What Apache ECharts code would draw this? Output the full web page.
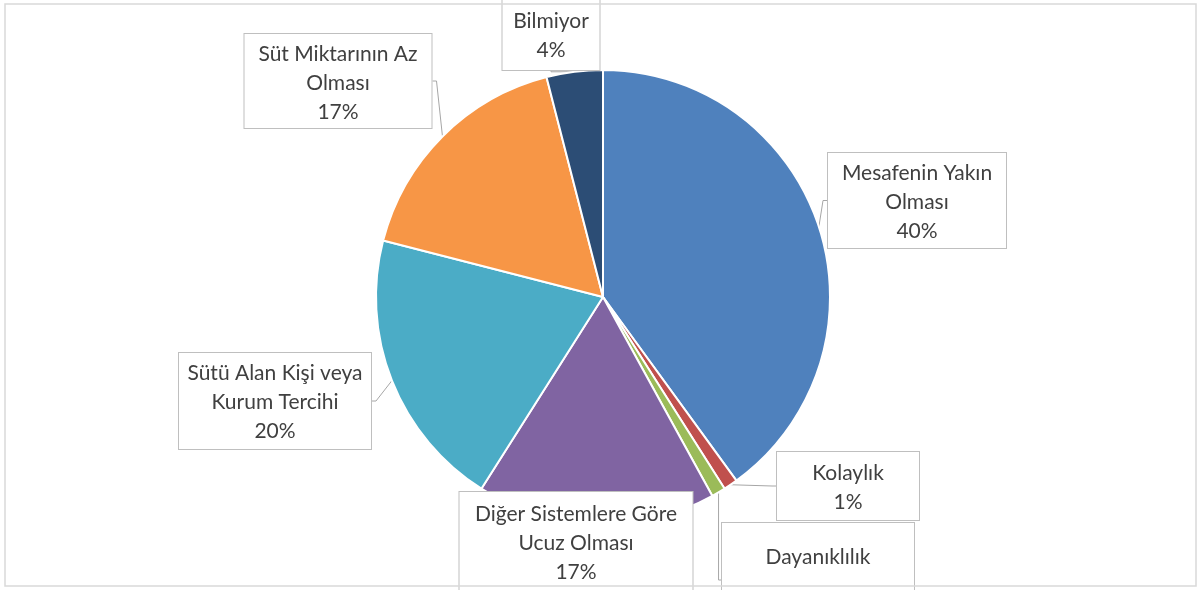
<!DOCTYPE html>
<html>
<head>
<meta charset="utf-8">
<script src="https://cdn.jsdelivr.net/npm/echarts@6/dist/echarts.min.js"></script>
<style>
html, body { margin: 0; padding: 0; background: #fff; }
#chart { width: 1203px; height: 590px; }
</style>
</head>
<body>
<div id="chart"></div>
<script>
var names = ['Mesafenin Yakın\nOlması', 'Kolaylık', 'Dayanıklılık', 'Diğer Sistemlere Göre\nUcuz Olması', 'Sütü Alan Kişi veya\nKurum Tercihi', 'Süt Miktarının Az\nOlması', 'Bilmiyor'];
var values = [40, 1, 1, 17, 20, 17, 4];
var colors = ['#4F81BD', '#C0504D', '#9BBB59', '#8064A2', '#4BACC6', '#F79646', '#2C4D75'];

// callout boxes: center x, top y, width, padding top, padding bottom, line height
var boxes = [
    [917, 153, 178, 6, 2, 29],
    [848, 452, 142, 7, 3, 29],
    [818, 523, 192, 10, 8, 48],
    [576, 492, 233, 8, 4, 29],
    [275, 353, 192, 6, 3, 29],
    [338, 34, 187, 6, 1, 29],
    [551, 0, 97, 7, 5, 29]
];

var myChart = echarts.init(document.getElementById('chart'));

var data = [];
for (var i = 0; i < names.length; i++) {
    data.push({
        name: names[i],
        value: values[i],
        itemStyle: { color: colors[i] },
        label: {
            width: boxes[i][2],
            lineHeight: boxes[i][5],
            padding: [boxes[i][3], 0, boxes[i][4], 0]
        }
    });
}

var option = {
    animation: false,
    graphic: [{
        type: 'rect',
        silent: true,
        z: 100,
        shape: { x: 5, y: 4, width: 1191, height: 582 },
        style: { fill: 'none', stroke: '#D9D9D9', lineWidth: 1.5 }
    }],
    series: [{
        type: 'pie',
        center: [603, 297],
        radius: 227,
        startAngle: 90,
        clockwise: true,
        avoidLabelOverlap: false,
        emphasis: { disabled: true },
        itemStyle: { borderColor: '#fff', borderWidth: 2 },
        label: {
            show: true,
            position: 'outside',
            formatter: '{b}\n{c}%',
            fontFamily: 'Lato',
            fontSize: 21,
            color: '#404040',
            backgroundColor: '#fff',
            borderColor: '#BFBFBF',
            borderWidth: 1,
            align: 'center'
        },
        labelLine: {
            show: true,
            length: 4,
            length2: 4,
            lineStyle: { color: '#A6A6A6', width: 1 }
        },
        labelLayout: function (params) {
            var b = boxes[params.dataIndex];
            return { x: b[0], y: b[1], align: 'center', verticalAlign: 'top' };
        },
        data: data
    }]
};

myChart.setOption(option);
</script>
</body>
</html>
